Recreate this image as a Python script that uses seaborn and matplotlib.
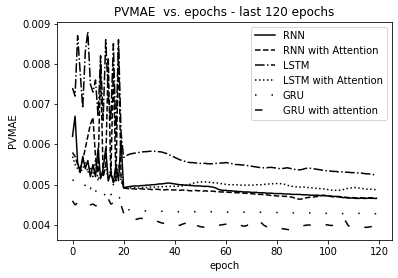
import numpy as np
import pandas as pd
import matplotlib
matplotlib.use("Agg")
import matplotlib.pyplot as plt
import seaborn as sns

# epochs of the last 120 epochs
epochs = np.arange(120)

rnn = [0.00620, 0.00670, 0.00555, 0.00530, 0.00570, 0.00540, 0.00560, 0.00520, 0.00550, 0.00520,
       0.00590, 0.00515, 0.00540, 0.00590, 0.00510, 0.00530, 0.00505, 0.00550, 0.00510, 0.00610,
       0.00492, 0.00494, 0.00495, 0.00496, 0.00497, 0.00497, 0.00497, 0.00498, 0.00498, 0.00499,
       0.00499, 0.00500, 0.00500, 0.00501, 0.00502, 0.00502, 0.00503, 0.00504, 0.00504, 0.00503,
       0.00502, 0.00501, 0.00500, 0.00500, 0.00499, 0.00499, 0.00498, 0.00498, 0.00497, 0.00497,
       0.00497, 0.00496, 0.00496, 0.00496, 0.00495, 0.00494, 0.00492, 0.00489, 0.00487, 0.00486,
       0.00486, 0.00485, 0.00485, 0.00484, 0.00484, 0.00483, 0.00483, 0.00482, 0.00482, 0.00482,
       0.00481, 0.00481, 0.00481, 0.00480, 0.00480, 0.00480, 0.00479, 0.00479, 0.00479, 0.00478,
       0.00478, 0.00478, 0.00478, 0.00477, 0.00477, 0.00477, 0.00476, 0.00476, 0.00476, 0.00476,
       0.00475, 0.00475, 0.00475, 0.00474, 0.00474, 0.00474, 0.00474, 0.00473, 0.00473, 0.00473,
       0.00472, 0.00472, 0.00471, 0.00471, 0.00470, 0.00469, 0.00468, 0.00468, 0.00467, 0.00467,
       0.00467, 0.00466, 0.00466, 0.00467, 0.00466, 0.00466, 0.00467, 0.00468, 0.00466, 0.00466]

rnn_att = [0.00580, 0.00570, 0.00550, 0.00540, 0.00560, 0.00590, 0.00620, 0.00650, 0.00667, 0.00570,
           0.00530, 0.00800, 0.00520, 0.00545, 0.00815, 0.00520, 0.00790, 0.00510, 0.00840, 0.00520,
           0.00492, 0.00491, 0.00490, 0.00490, 0.00490, 0.00489, 0.00490, 0.00490, 0.00489, 0.00489,
           0.00489, 0.00488, 0.00488, 0.00489, 0.00488, 0.00488, 0.00487, 0.00488, 0.00488, 0.00487,
           0.00487, 0.00487, 0.00486, 0.00487, 0.00486, 0.00486, 0.00485, 0.00485, 0.00486, 0.00485,
           0.00485, 0.00484, 0.00485, 0.00484, 0.00484, 0.00484, 0.00483, 0.00483, 0.00482, 0.00482,
           0.00482, 0.00481, 0.00481, 0.00481, 0.00480, 0.00480, 0.00480, 0.00479, 0.00479, 0.00478,
           0.00478, 0.00477, 0.00477, 0.00476, 0.00476, 0.00475, 0.00475, 0.00474, 0.00473, 0.00473,
           0.00472, 0.00472, 0.00472, 0.00471, 0.00471, 0.00470, 0.00469, 0.00467, 0.00465, 0.00464,
           0.00465, 0.00467, 0.00468, 0.00469, 0.00469, 0.00470, 0.00471, 0.00472, 0.00474, 0.00473,
           0.00472, 0.00471, 0.00470, 0.00470, 0.00471, 0.00470, 0.00469, 0.00469, 0.00468, 0.00468,
           0.00468, 0.00467, 0.00468, 0.00467, 0.00467, 0.00468, 0.00467, 0.00466, 0.00467, 0.00467]

lstm = [0.00740, 0.00720, 0.00870, 0.00780, 0.00690, 0.00830, 0.00880, 0.00750, 0.00730, 0.00760,
        0.00670, 0.00820, 0.00660, 0.00860, 0.00720, 0.00660, 0.00850, 0.00620, 0.00860, 0.00630,
        0.00568, 0.00572, 0.00575, 0.00577, 0.00578, 0.00579, 0.00580, 0.00581, 0.00582, 0.00582,
        0.00583, 0.00583, 0.00583, 0.00582, 0.00582, 0.00581, 0.00579, 0.00577, 0.00574, 0.00571,
        0.00568, 0.00565, 0.00562, 0.00560, 0.00558, 0.00556, 0.00555, 0.00555, 0.00554, 0.00554,
        0.00553, 0.00553, 0.00553, 0.00552, 0.00552, 0.00552, 0.00553, 0.00553, 0.00554, 0.00554,
        0.00555, 0.00554, 0.00553, 0.00551, 0.00550, 0.00550, 0.00549, 0.00549, 0.00548, 0.00547,
        0.00546, 0.00545, 0.00544, 0.00543, 0.00542, 0.00542, 0.00542, 0.00543, 0.00543, 0.00542,
        0.00541, 0.00540, 0.00540, 0.00541, 0.00542, 0.00541, 0.00539, 0.00538, 0.00537, 0.00537,
        0.00538, 0.00540, 0.00541, 0.00541, 0.00540, 0.00539, 0.00538, 0.00537, 0.00536, 0.00535,
        0.00534, 0.00534, 0.00533, 0.00533, 0.00532, 0.00532, 0.00532, 0.00531, 0.00531, 0.00530,
        0.00530, 0.00530, 0.00529, 0.00529, 0.00528, 0.00527, 0.00527, 0.00526, 0.00525, 0.00524]

lstm_att = [0.00570, 0.00550, 0.00540, 0.00530, 0.00540, 0.00555, 0.00530, 0.00545, 0.00520, 0.00560,
            0.00510, 0.00530, 0.00520, 0.00550, 0.00510, 0.00540, 0.00500, 0.00520, 0.00550, 0.00510,
            0.00493, 0.00493, 0.00492, 0.00492, 0.00493, 0.00492, 0.00492, 0.00493, 0.00493, 0.00493,
            0.00494, 0.00494, 0.00494, 0.00495, 0.00495, 0.00495, 0.00495, 0.00496, 0.00496, 0.00496,
            0.00496, 0.00496, 0.00497, 0.00497, 0.00498, 0.00499, 0.00501, 0.00503, 0.00505, 0.00506,
            0.00507, 0.00507, 0.00507, 0.00506, 0.00506, 0.00505, 0.00505, 0.00504, 0.00503, 0.00502,
            0.00501, 0.00500, 0.00500, 0.00500, 0.00500, 0.00499, 0.00499, 0.00499, 0.00499, 0.00499,
            0.00499, 0.00499, 0.00500, 0.00500, 0.00500, 0.00501, 0.00501, 0.00502, 0.00502, 0.00503,
            0.00503, 0.00503, 0.00502, 0.00501, 0.00499, 0.00497, 0.00496, 0.00495, 0.00495, 0.00494,
            0.00494, 0.00494, 0.00493, 0.00493, 0.00492, 0.00491, 0.00491, 0.00490, 0.00490, 0.00489,
            0.00488, 0.00487, 0.00486, 0.00486, 0.00487, 0.00486, 0.00488, 0.00490, 0.00491, 0.00492,
            0.00493, 0.00493, 0.00492, 0.00491, 0.00490, 0.00489, 0.00489, 0.00489, 0.00488, 0.00488]

gru = [0.00510, 0.00515, 0.00508, 0.00512, 0.00505, 0.00498, 0.00512, 0.00490, 0.00505, 0.00482,
       0.00497, 0.00488, 0.00480, 0.00472, 0.00490, 0.00475, 0.00482, 0.00465, 0.00472, 0.00461,
       0.00443, 0.00440, 0.00438, 0.00437, 0.00437, 0.00436, 0.00436, 0.00436, 0.00435, 0.00435,
       0.00435, 0.00435, 0.00435, 0.00434, 0.00434, 0.00434, 0.00434, 0.00434, 0.00434, 0.00434,
       0.00434, 0.00433, 0.00433, 0.00434, 0.00434, 0.00433, 0.00433, 0.00433, 0.00433, 0.00433,
       0.00433, 0.00433, 0.00432, 0.00432, 0.00433, 0.00433, 0.00432, 0.00432, 0.00432, 0.00432,
       0.00432, 0.00432, 0.00432, 0.00433, 0.00432, 0.00432, 0.00432, 0.00432, 0.00431, 0.00432,
       0.00432, 0.00432, 0.00431, 0.00431, 0.00432, 0.00431, 0.00431, 0.00431, 0.00431, 0.00431,
       0.00431, 0.00431, 0.00431, 0.00430, 0.00431, 0.00431, 0.00430, 0.00430, 0.00431, 0.00430,
       0.00430, 0.00430, 0.00430, 0.00430, 0.00430, 0.00429, 0.00430, 0.00430, 0.00429, 0.00429,
       0.00429, 0.00429, 0.00430, 0.00429, 0.00429, 0.00429, 0.00428, 0.00429, 0.00429, 0.00428,
       0.00428, 0.00428, 0.00429, 0.00428, 0.00428, 0.00428, 0.00428, 0.00427, 0.00428, 0.00428]

gru_att = [0.00460, 0.00450, 0.00455, 0.00458, 0.00462, 0.00460, 0.00455, 0.00450, 0.00452, 0.00448,
           0.00447, 0.00449, 0.00452, 0.00455, 0.00465, 0.00452, 0.00455, 0.00460, 0.00465, 0.00450,
           0.00430, 0.00418, 0.00416, 0.00415, 0.00417, 0.00414, 0.00416, 0.00417, 0.00413, 0.00411,
           0.00410, 0.00411, 0.00409, 0.00410, 0.00407, 0.00405, 0.00404, 0.00402, 0.00401, 0.00399,
           0.00400, 0.00401, 0.00399, 0.00402, 0.00404, 0.00406, 0.00410, 0.00413, 0.00404, 0.00398,
           0.00396, 0.00395, 0.00394, 0.00393, 0.00395, 0.00397, 0.00398, 0.00399, 0.00400, 0.00401,
           0.00402, 0.00401, 0.00400, 0.00401, 0.00403, 0.00402, 0.00399, 0.00397, 0.00398, 0.00401,
           0.00404, 0.00407, 0.00410, 0.00412, 0.00405, 0.00399, 0.00396, 0.00394, 0.00393, 0.00394,
           0.00395, 0.00393, 0.00391, 0.00390, 0.00389, 0.00388, 0.00390, 0.00392, 0.00395, 0.00397,
           0.00398, 0.00399, 0.00400, 0.00400, 0.00401, 0.00400, 0.00399, 0.00399, 0.00400, 0.00401,
           0.00400, 0.00399, 0.00399, 0.00400, 0.00402, 0.00408, 0.00415, 0.00409, 0.00398, 0.00396,
           0.00395, 0.00396, 0.00397, 0.00396, 0.00395, 0.00394, 0.00395, 0.00396, 0.00395, 0.00394]

series = [
    ("RNN", rnn, "-"),
    ("RNN with Attention", rnn_att, "--"),
    ("LSTM", lstm, "-."),
    ("LSTM with Attention", lstm_att, ":"),
    ("GRU", gru, (0, (1, 10))),
    ("GRU with attention", gru_att, (0, (5, 10))),
]

fig = plt.figure(figsize=(398 / 72, 278 / 72), dpi=72)
ax = fig.add_axes([0.144, 0.137, 0.840, 0.784])

for name, vals, ls in series:
    df = pd.DataFrame({"epoch": epochs, "PVMAE": vals})
    sns.lineplot(data=df, x="epoch", y="PVMAE", color="black", linestyle=ls,
                 linewidth=1.5, label=name, ax=ax)

ax.set_xlim(-5.95, 124.95)
ax.set_ylim(0.00363, 0.00904)
ax.set_xticks([0, 20, 40, 60, 80, 100, 120])
ax.set_title("PVMAE  vs. epochs - last 120 epochs")
ax.legend(loc="upper right")

fig.savefig("out.png", dpi=72)
